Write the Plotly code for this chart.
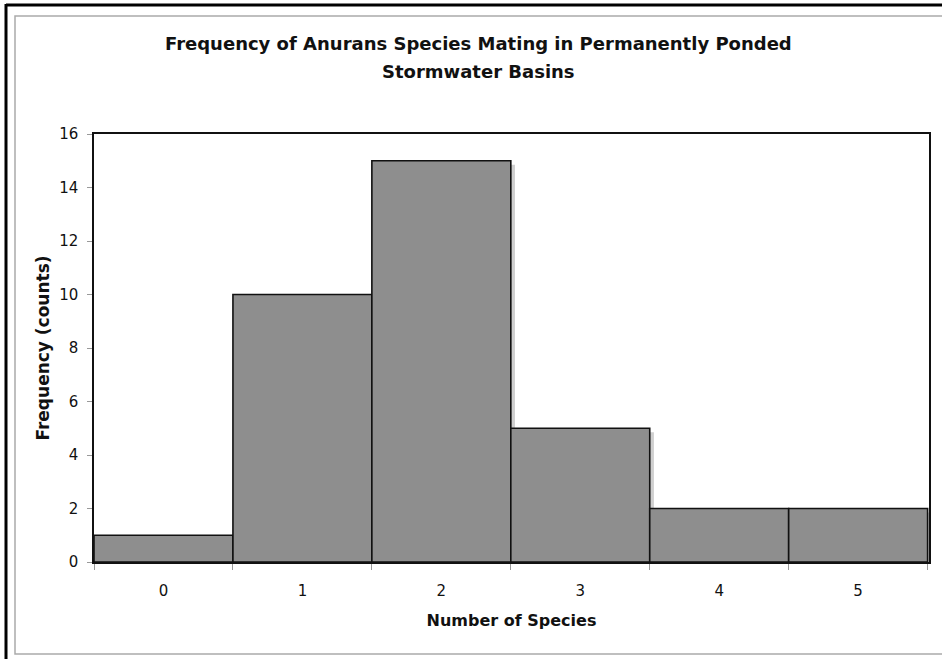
import plotly.graph_objects as go

categories = ["0", "1", "2", "3", "4", "5"]
counts = [1, 10, 15, 5, 2, 2]
y_ticks = [0, 2, 4, 6, 8, 10, 12, 14, 16]
title_lines = ["Frequency of Anurans Species Mating in Permanently Ponded", "Stormwater Basins"]

FONT = "DejaVu Sans"
INK = "#111111"

fig = go.Figure()

# soft drop shadow behind bars
fig.add_trace(go.Bar(
    x=categories, y=counts, base=-0.15, width=1, offset=-0.47,
    marker=dict(color="#cfcfcf", line=dict(width=0)),
    hoverinfo="skip", showlegend=False,
))
# main histogram bars
fig.add_trace(go.Bar(
    x=categories, y=counts, width=1,
    marker=dict(color="#8e8e8e", line=dict(color=INK, width=1.6)),
    showlegend=False,
))

fig.update_layout(
    width=942, height=659,
    margin=dict(l=94, r=11, t=134, b=97),
    paper_bgcolor="white", plot_bgcolor="white",
    barmode="overlay",
    font=dict(family=FONT, color=INK, size=15),
    xaxis=dict(
        type="category", range=[-0.5, 5.51],
        tickson="boundaries", ticks="outside", ticklen=6, tickcolor="#999999", tickwidth=1,
        ticklabelstandoff=14,
        showline=True, linecolor=INK, linewidth=1.5, mirror=True,
        showgrid=False, zeroline=False,
        tickfont=dict(family=FONT, size=15, color=INK),
        title=dict(text="<b>Number of Species</b>", standoff=16,
                   font=dict(family=FONT, size=16, color=INK)),
    ),
    yaxis=dict(
        range=[0, 16], tickvals=y_ticks, ticktext=[str(v) for v in y_ticks],
        ticks="outside", ticklen=5, tickcolor="#999999", tickwidth=1,
        ticklabelstandoff=6,
        showline=True, linecolor=INK, linewidth=1.5, mirror=True,
        showgrid=False, zeroline=False,
        tickfont=dict(family=FONT, size=15, color=INK),
        title=dict(text="<b>Frequency (counts)</b>", standoff=5,
                   font=dict(family=FONT, size=17, color=INK)),
    ),
    annotations=[
        dict(text="<b>%s</b>" % title_lines[0], xref="paper", yref="paper",
             x=0.461, y=1.211, xanchor="center", yanchor="middle", showarrow=False,
             font=dict(family=FONT, size=18, color=INK)),
        dict(text="<b>%s</b>" % title_lines[1], xref="paper", yref="paper",
             x=0.461, y=1.146, xanchor="center", yanchor="middle", showarrow=False,
             font=dict(family=FONT, size=18, color=INK)),
    ],
    shapes=[
        # inner gray frame
        dict(type="rect", xref="paper", yref="paper", xsizemode="pixel", ysizemode="pixel",
             xanchor=0, yanchor=0, x0=-79, x1=851, y0=-92, y1=546,
             line=dict(color="#aaaaaa", width=1.5), fillcolor="rgba(0,0,0,0)", layer="below"),
        # outer black frame (left and top)
        dict(type="line", xref="paper", yref="paper", xsizemode="pixel", ysizemode="pixel",
             xanchor=0, yanchor=0, x0=-88, x1=-88, y0=-110, y1=558,
             line=dict(color="black", width=3)),
        dict(type="line", xref="paper", yref="paper", xsizemode="pixel", ysizemode="pixel",
             xanchor=0, yanchor=0, x0=-88, x1=860, y0=557, y1=557,
             line=dict(color="black", width=3)),
    ],
)

fig.write_html("out.html")
